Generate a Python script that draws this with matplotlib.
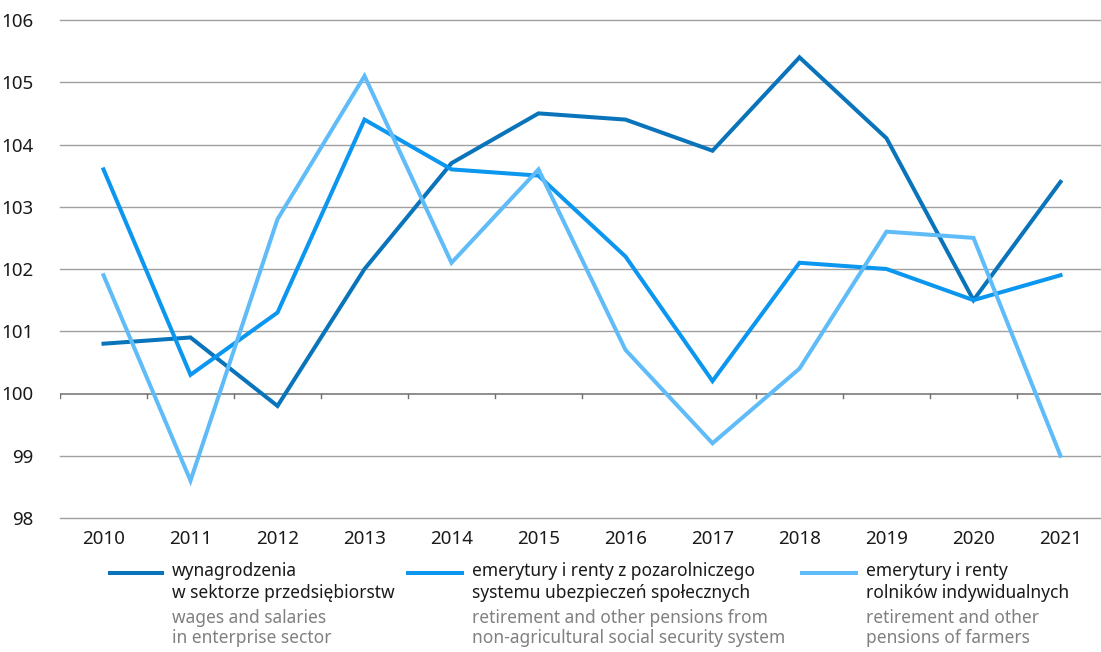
import matplotlib
matplotlib.use("Agg")
import matplotlib.pyplot as plt
from matplotlib.lines import Line2D

plt.rcParams['font.family'] = ['Noto Sans', 'DejaVu Sans']

years = ['2010', '2011', '2012', '2013', '2014', '2015',
         '2016', '2017', '2018', '2019', '2020', '2021']
wages = [100.8, 100.9, 99.8, 102.0, 103.7, 104.5, 104.4, 103.9, 105.4, 104.1, 101.5, 103.4]
pensions_nonagri = [103.6, 100.3, 101.3, 104.4, 103.6, 103.5, 102.2, 100.2, 102.1, 102.0, 101.5, 101.9]
pensions_farmers = [101.9, 98.6, 102.8, 105.1, 102.1, 103.6, 100.7, 99.2, 100.4, 102.6, 102.5, 99.0]
yticks = [98, 99, 100, 101, 102, 103, 104, 105, 106]

labels_pl = ['wynagrodzenia\nw sektorze przedsiębiorstw',
             'emerytury i renty z pozarolniczego\nsystemu ubezpieczeń społecznych',
             'emerytury i renty\nrolników indywidualnych']
labels_en = ['wages and salaries\nin enterprise sector',
             'retirement and other pensions from\nnon-agricultural social security system',
             'retirement and other\npensions of farmers']
colors = ['#0a74bb', '#0b96f0', '#5fbcf8']

W, H = 1101, 652
fig = plt.figure(figsize=(W / 100, H / 100), dpi=100)
# axes in pixel coords: left 60, right ~1104, top y=20, bottom y=518
ax = fig.add_axes([60 / W, 1 - 518 / H, 1044 / W, 498 / H])

x = list(range(len(years)))
for series, c in zip([wages, pensions_nonagri, pensions_farmers], colors):
    ax.plot(x, series, color=c, lw=2.9, solid_joinstyle='miter', zorder=3)

ax.set_xlim(-0.5, 11.5)
ax.set_ylim(98, 106)
ax.set_yticks(yticks)
for v in yticks:
    if v != 100:
        ax.axhline(v, color='#a0a0a0', lw=1.0, zorder=1, clip_on=False)
ax.axhline(100, color='#707070', lw=1.1, zorder=2)
# small tick marks at category boundaries on the 100 line
for b in range(0, 12):
    ax.plot([b - 0.5, b - 0.5], [100, 99.93], color='#707070', lw=1.0, zorder=2)

for s in ax.spines.values():
    s.set_visible(False)
ax.tick_params(axis='both', length=0, labelsize=13.5, colors='#1a1a1a')
ax.tick_params(axis='y', pad=19)
ax.set_yticklabels([str(v) for v in yticks])
ax.set_xticks(x)
ax.set_xticklabels(years)
ax.tick_params(axis='x', pad=9)

# legend drawn by hand below the plot
leg_x = [(110, 162, 172), (408, 462, 472), (802, 856, 866)]
for (x0, x1, tx), c, pl, en in zip(leg_x, colors, labels_pl, labels_en):
    fig.add_artist(Line2D([x0 / W, x1 / W], [1 - 573 / H, 1 - 573 / H],
                          color=c, lw=2.9, transform=fig.transFigure))
    fig.text(tx / W, 1 - 562 / H, pl, fontsize=12.5, color='#1a1a1a',
             va='top', ha='left', linespacing=1.3)
    fig.text(tx / W, 1 - 609 / H, en, fontsize=12.5, color='#808080',
             va='top', ha='left', linespacing=1.15)

fig.savefig('out.png', dpi=100)
